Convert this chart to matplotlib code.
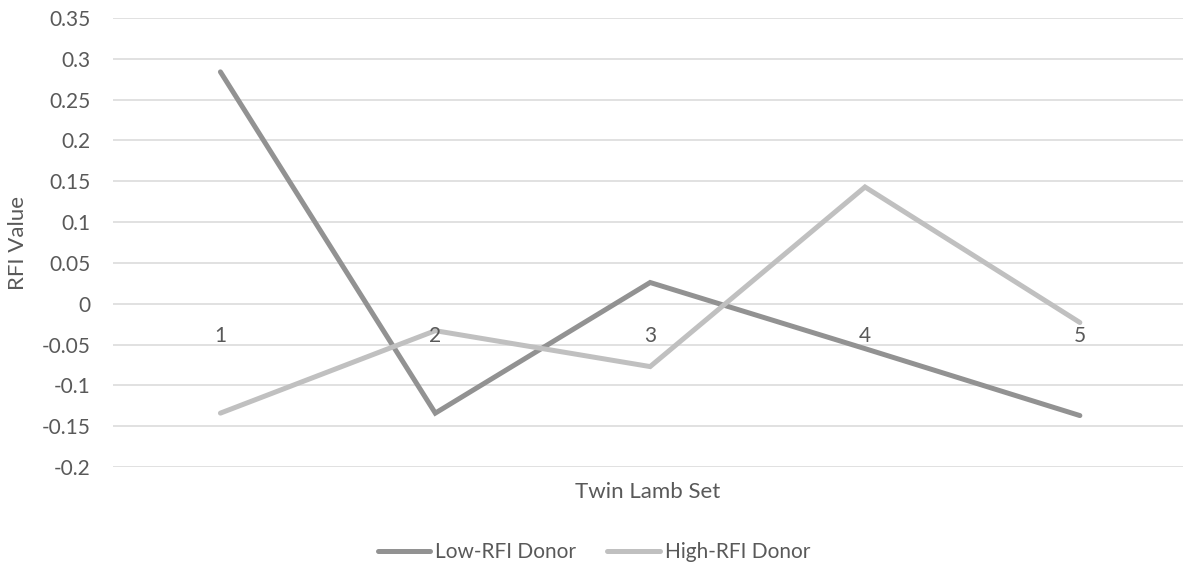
import matplotlib.pyplot as plt
from matplotlib.ticker import MultipleLocator, FuncFormatter

# Data
sets = [1, 2, 3, 4, 5]
low_rfi = [0.284, -0.134, 0.026, -0.055, -0.137]
high_rfi = [-0.134, -0.033, -0.077, 0.143, -0.023]

LOW_COLOR = "#929292"
HIGH_COLOR = "#c0c0c0"
TEXT_COLOR = "#595959"

plt.rcParams['font.family'] = ['Lato', 'DejaVu Sans']

W, H = 1183, 576
fig = plt.figure(figsize=(W / 100, H / 100), dpi=100)
ax = fig.add_axes([113 / W, (H - 467) / H, 1 - 113 / W, (467 - 18) / H])

ax.plot(sets, low_rfi, color=LOW_COLOR, lw=3.6, solid_capstyle='round',
        solid_joinstyle='miter', label="Low-RFI Donor", zorder=3)
ax.plot(sets, high_rfi, color=HIGH_COLOR, lw=3.6, solid_capstyle='round',
        solid_joinstyle='miter', label="High-RFI Donor", zorder=3)

ax.set_xlim(0.5, 5.48)
ax.set_ylim(-0.2, 0.35)
ax.yaxis.set_major_locator(MultipleLocator(0.05))
ax.yaxis.set_major_formatter(FuncFormatter(lambda v, p: f"{round(v, 2):g}"))
ax.grid(axis='y', color="#d9d9d9", lw=1.1)
ax.set_axisbelow(True)
ax.set_xticks([])
ax.tick_params(axis='y', length=0, pad=16, labelsize=15, labelcolor=TEXT_COLOR)
for s in ax.spines.values():
    s.set_visible(False)

# category labels sit just below the zero line, like Excel does
for x in sets:
    ax.annotate(str(x), (x, 0), xytext=(0, -32), textcoords='offset pixels',
                ha='center', va='center', fontsize=15, color=TEXT_COLOR)

ax.set_ylabel("RFI Value", fontsize=16, color=TEXT_COLOR, va='center')
ax.yaxis.set_label_coords(-95 / (W - 113), 0.5)
ax.set_xlabel("Twin Lamb Set", fontsize=16, color=TEXT_COLOR, va='center')
ax.xaxis.set_label_coords(0.5, -25 / 449)

leg = fig.legend(loc='center', bbox_to_anchor=(594 / W, 1 - 552 / H), ncol=2,
                 frameon=False, fontsize=15, handlelength=2.5, handletextpad=0.25,
                 columnspacing=1.5)
for t in leg.get_texts():
    t.set_color(TEXT_COLOR)

fig.savefig("out.png", dpi=100)
